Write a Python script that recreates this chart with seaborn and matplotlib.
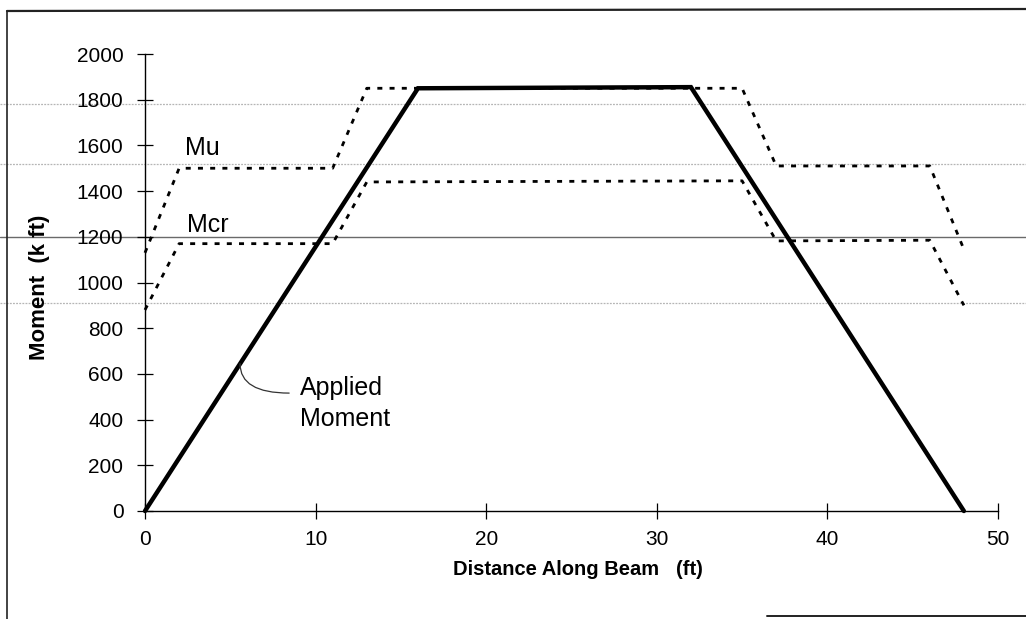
import numpy as np
import pandas as pd
import matplotlib
matplotlib.use("Agg")
import matplotlib.pyplot as plt
from matplotlib.lines import Line2D
import seaborn as sns

# ---- data ----
applied_x = [0, 16, 32, 48]
applied_y = [0, 1850, 1855, 0]

mu_x = [0, 2, 11, 13, 35, 37, 46, 48]
mu_y = [1130, 1500, 1500, 1850, 1850, 1510, 1510, 1145]

mcr_x = [0, 2, 11, 13, 35, 37, 46, 48]
mcr_y = [880, 1170, 1170, 1440, 1445, 1182, 1185, 900]

x_ticks = [0, 10, 20, 30, 40, 50]
y_ticks = [0, 200, 400, 600, 800, 1000, 1200, 1400, 1600, 1800, 2000]

# faint horizontal lines of the scanned page
scan_light = [1781, 1519, 910]
scan_dark = [1199]

sns.set_style("ticks")
plt.rcParams["font.family"] = ["Liberation Sans", "DejaVu Sans"]
plt.rcParams["text.color"] = "black"
plt.rcParams["axes.labelcolor"] = "black"
plt.rcParams["xtick.color"] = "black"
plt.rcParams["ytick.color"] = "black"

fig = plt.figure(figsize=(10.26, 6.19), dpi=100)
ax = fig.add_axes([145 / 1026, 1 - 511 / 619, 853 / 1026, 457 / 619])

applied = pd.DataFrame({"x": applied_x, "y": applied_y})
mu = pd.DataFrame({"x": mu_x, "y": mu_y})
mcr = pd.DataFrame({"x": mcr_x, "y": mcr_y})

x0 = -145 / 853
x1 = 881 / 853
for v in scan_light:
    ax.axhline(v, xmin=x0, xmax=x1, color="#b5b5b5", lw=0.9,
               ls=(0, (1.5, 1)), clip_on=False, zorder=0)
for v in scan_dark:
    ax.axhline(v, xmin=x0, xmax=x1, color="#6a6a6a", lw=1.0,
               clip_on=False, zorder=0)

dots = (0, (1.8, 2.6))
sns.lineplot(data=mu, x="x", y="y", ax=ax, sort=False, color="black",
             lw=2.0, estimator=None)
sns.lineplot(data=mcr, x="x", y="y", ax=ax, sort=False, color="black",
             lw=2.0, estimator=None)
sns.lineplot(data=applied, x="x", y="y", ax=ax, sort=False, color="black",
             lw=3.2, estimator=None)
lines = ax.get_lines()
for ln in lines:
    ln.set_clip_on(False)
for ln in lines[-3:-1]:
    ln.set_linestyle(dots)
    ln.set_dash_capstyle("butt")
lines[-1].set_solid_joinstyle("miter")

ax.set_xlim(0, 50)
ax.set_ylim(0, 2000)
ax.set_xticks(x_ticks)
ax.set_yticks(y_ticks)
ax.tick_params(axis="both", which="major", direction="inout", length=11,
               width=0.9, color="black", labelsize=15, labelcolor="black",
               bottom=True, left=True, top=False, right=False)
ax.tick_params(axis="y", pad=10)
ax.tick_params(axis="x", pad=8)
ax.grid(False)
for s in ["top", "right"]:
    ax.spines[s].set_visible(False)
for s in ["left", "bottom"]:
    ax.spines[s].set_color("black")
    ax.spines[s].set_linewidth(1.0)
ax.set_facecolor("none")

ax.set_xlabel("Distance Along Beam   (ft)", fontsize=14.5, fontweight="bold",
              color="black")
ax.set_ylabel("Moment  (k ft)", fontsize=16, fontweight="bold", color="black")
ax.xaxis.set_label_coords(0.507, -0.108)
ax.yaxis.set_label_coords(-0.111, 0.49)

ax.text(2.35, 1589, "Mu", fontsize=18, ha="left", va="center", color="black")
ax.text(2.45, 1252, "Mcr", fontsize=18, ha="left", va="center", color="black")
ax.text(9.1, 470, "Applied\nMoment", fontsize=18, ha="left", va="center",
        linespacing=1.35, color="black")
ax.annotate("", xy=(5.57, 645), xytext=(8.45, 516),
            arrowprops=dict(arrowstyle="-", color="#333333", lw=0.9,
                            connectionstyle="angle3,angleA=0,angleB=90",
                            shrinkA=0, shrinkB=0))

# page frame of the scan
fig.add_artist(Line2D([7 / 1026, 1.0], [1 - 11 / 619, 1 - 9 / 619],
                      transform=fig.transFigure, color="#222222", lw=1.6))
fig.add_artist(Line2D([7 / 1026, 7 / 1026], [1 - 11 / 619, 0.0],
                      transform=fig.transFigure, color="#222222", lw=1.2))
fig.add_artist(Line2D([767 / 1026, 1.0], [1 - 616 / 619, 1 - 616 / 619],
                      transform=fig.transFigure, color="#222222", lw=1.4))

fig.savefig("out.png", dpi=100, facecolor="white")
